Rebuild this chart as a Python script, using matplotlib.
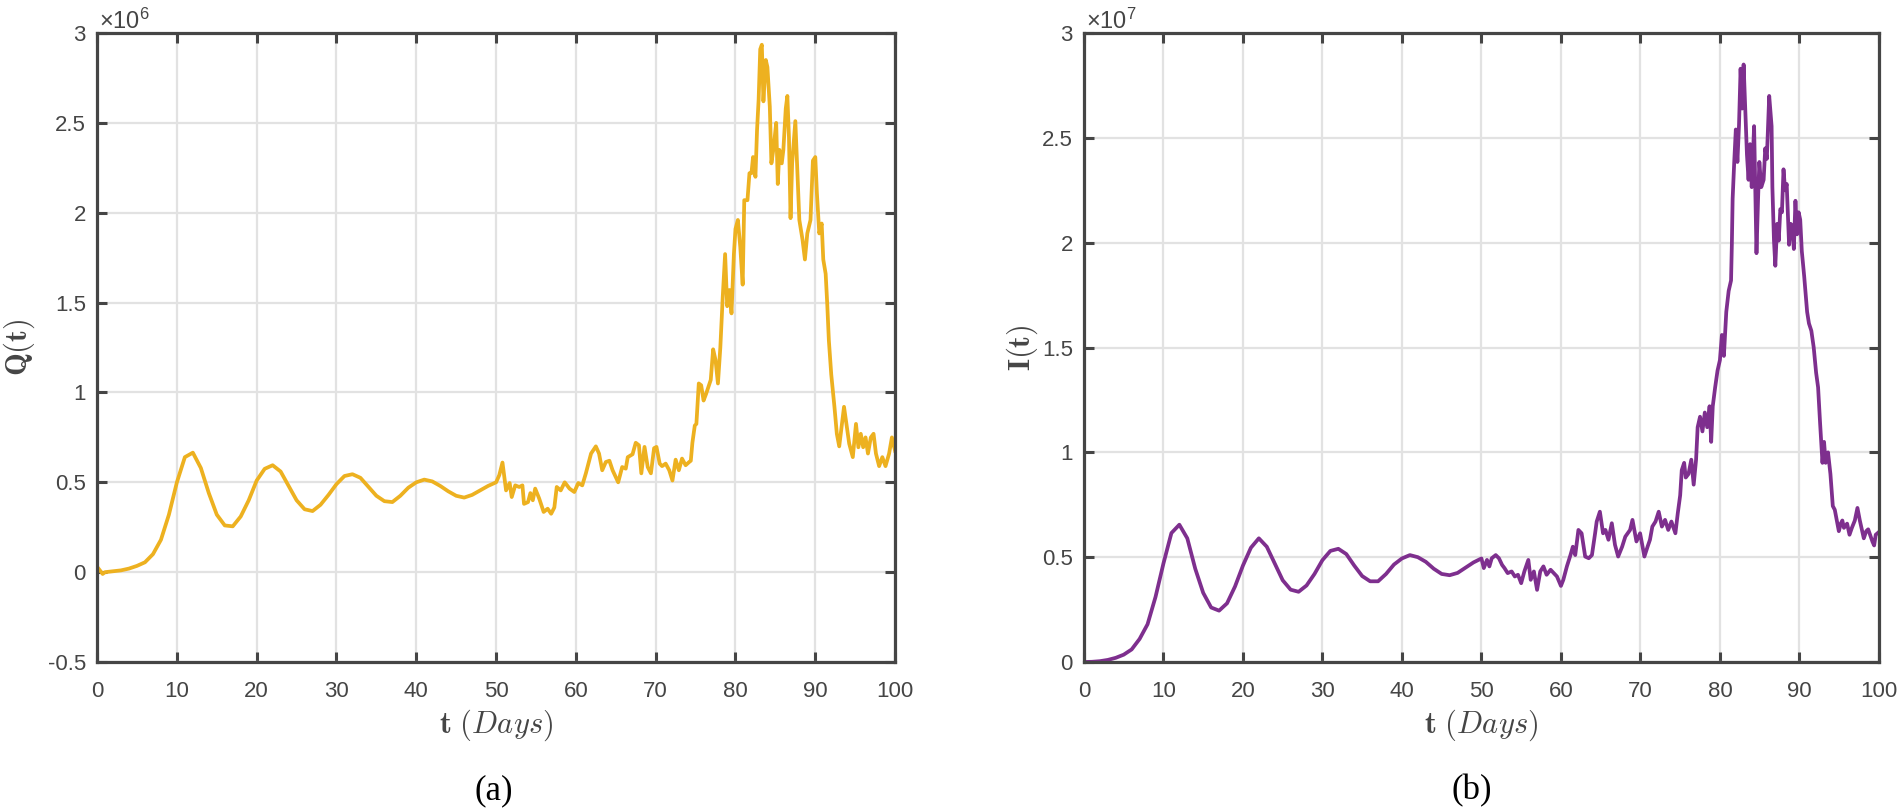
import matplotlib
matplotlib.use("Agg")
import matplotlib.pyplot as plt
import numpy as np

plt.rcParams["font.family"] = ["Liberation Sans", "DejaVu Sans"]
plt.rcParams["mathtext.fontset"] = "cm"

# ---- data (Q in units of 1e6, I in units of 1e7) ----
q_days_smooth = [0, 0.7, 1, 2, 3, 4, 5, 6, 7, 8, 9, 10, 11, 12, 13, 14, 15, 16,
                 17, 18, 19, 20, 21, 22, 23, 24, 25, 26, 27, 28, 29, 30, 31, 32,
                 33, 34, 35, 36, 37, 38, 39, 40, 41, 42, 43, 44, 45, 46, 47, 48,
                 49, 50]
q_vals_smooth = [0.03, -0.01, 0.0, 0.005, 0.01, 0.02, 0.035, 0.055, 0.10, 0.18,
                 0.32, 0.50, 0.64, 0.665, 0.58, 0.44, 0.32, 0.26, 0.255, 0.31,
                 0.40, 0.51, 0.575, 0.595, 0.56, 0.48, 0.40, 0.35, 0.34, 0.375,
                 0.43, 0.49, 0.535, 0.545, 0.525, 0.475, 0.425, 0.395, 0.39,
                 0.425, 0.47, 0.50, 0.515, 0.505, 0.48, 0.45, 0.425, 0.415,
                 0.43, 0.455, 0.48, 0.50]
q_days_noisy = [50.4, 50.8, 51.25, 51.7, 51.96, 52.4, 52.9, 53.3, 53.5, 54.0,
                54.3, 54.6, 54.9, 55.4, 55.96, 56.46, 56.9, 57.3, 57.6, 58.1,
                58.6, 59.2, 59.8, 60.3, 60.8, 61.25, 61.9, 62.5, 62.9, 63.3,
                63.75, 64.2, 64.6, 65.3, 65.8, 66.25, 66.5, 67.1, 67.5, 67.9,
                68.2, 68.6, 69.0, 69.4, 69.8, 70.1, 70.5, 70.8, 71.25, 71.7,
                72.1, 72.5, 72.9, 73.3, 73.75, 74.2, 74.4, 74.6, 74.9, 75.1,
                75.4, 75.7, 76.0, 76.3, 76.6, 76.9, 77.2, 77.5, 77.8, 78.1,
                78.4, 78.7, 78.96, 79.25, 79.5, 79.8, 80.0, 80.3, 80.6, 80.9,
                81.1, 81.5, 81.75, 82.0, 82.2, 82.5, 82.7, 82.9, 83.1, 83.3,
                83.5, 83.8, 84.0, 84.3, 84.5, 84.8, 85.1, 85.3, 85.5, 85.8,
                86.0, 86.3, 86.5, 86.7, 86.9, 87.1, 87.5, 87.7, 88.0, 88.4,
                88.7, 89.0, 89.4, 89.7, 90.0, 90.2, 90.5, 90.8, 91.0, 91.3,
                91.5, 91.7, 92.0, 92.4, 92.7, 93.0, 93.3, 93.6, 93.9, 94.25,
                94.7, 95.1, 95.4, 95.7, 96.0, 96.3, 96.6, 96.96, 97.3, 97.6,
                98.0, 98.4, 98.8, 99.25, 99.6, 100.0]
q_vals_noisy = [0.54, 0.61, 0.455, 0.496, 0.418, 0.483, 0.474, 0.483, 0.38, 0.39,
                0.44, 0.40, 0.465, 0.41, 0.335, 0.353, 0.325, 0.36, 0.474, 0.455,
                0.50, 0.465, 0.446, 0.496, 0.483, 0.55, 0.66, 0.70, 0.66, 0.567,
                0.613, 0.62, 0.567, 0.50, 0.585, 0.576, 0.64, 0.656, 0.72, 0.706,
                0.55, 0.697, 0.585, 0.55, 0.69, 0.697, 0.604, 0.59, 0.604, 0.567,
                0.51, 0.626, 0.567, 0.632, 0.595, 0.613, 0.62, 0.72, 0.816, 0.825,
                1.05, 1.04, 0.955, 0.99, 1.03, 1.07, 1.24, 1.18, 1.05, 1.25,
                1.53, 1.77, 1.48, 1.57, 1.44, 1.77, 1.91, 1.96, 1.81, 1.60,
                2.07, 2.07, 2.22, 2.22, 2.31, 2.20, 2.46, 2.63, 2.91, 2.935,
                2.62, 2.85, 2.81, 2.59, 2.275, 2.37, 2.50, 2.16, 2.35, 2.275,
                2.35, 2.58, 2.65, 2.42, 1.97, 2.275, 2.51, 2.29, 1.96, 1.85,
                1.74, 1.885, 1.96, 2.29, 2.31, 2.11, 1.885, 1.94, 1.74, 1.66,
                1.49, 1.29, 1.10, 0.92, 0.77, 0.70, 0.81, 0.92, 0.825, 0.715,
                0.64, 0.825, 0.695, 0.77, 0.695, 0.75, 0.66, 0.75, 0.77, 0.66,
                0.59, 0.64, 0.59, 0.66, 0.75, 0.675]

i_days_smooth = list(range(0, 51))
i_vals_smooth = [0.0, 0.001, 0.004, 0.01, 0.02, 0.035, 0.06, 0.11, 0.18, 0.31,
                 0.47, 0.615, 0.655, 0.59, 0.445, 0.33, 0.26, 0.245, 0.28, 0.36,
                 0.46, 0.545, 0.59, 0.55, 0.47, 0.39, 0.345, 0.335, 0.365, 0.42,
                 0.486, 0.53, 0.54, 0.515, 0.46, 0.41, 0.385, 0.385, 0.42, 0.465,
                 0.494, 0.51, 0.50, 0.478, 0.445, 0.42, 0.414, 0.425, 0.45, 0.475,
                 0.494]
i_days_noisy = [50.3, 50.7, 51.0, 51.3, 51.8, 52.2, 52.6, 52.9, 53.3, 53.8,
                54.2, 54.6, 55.0, 55.4, 55.9, 56.2, 56.6, 57.0, 57.4, 57.8,
                58.2, 58.7, 59.1, 59.5, 60.0, 60.3, 60.75, 61.2, 61.5, 61.8,
                62.2, 62.6, 63.05, 63.5, 63.9, 64.3, 64.5, 64.9, 65.3, 65.6,
                65.98, 66.4, 66.8, 67.2, 67.7, 68.1, 68.7, 69.0, 69.5, 69.96,
                70.5, 70.9, 71.2, 71.5, 71.9, 72.3, 72.7, 73.1, 73.5, 73.9,
                74.4, 74.7, 75.0, 75.2, 75.5, 75.7, 76.05, 76.4, 76.7, 77.0,
                77.2, 77.5, 77.8, 78.1, 78.4, 78.7, 78.9, 79.1, 79.4, 79.7,
                80.0, 80.25, 80.5, 80.8, 81.1, 81.4, 81.5, 81.6, 81.8, 82.0,
                82.2, 82.4, 82.6, 82.8, 82.98, 83.2, 83.4, 83.6, 83.8, 84.0,
                84.3, 84.45, 84.6, 84.8, 84.96, 85.2, 85.5, 85.7, 85.9, 86.05,
                86.2, 86.5, 86.6, 86.8, 86.97, 87.2, 87.4, 87.6, 87.8, 88.0,
                88.2, 88.4, 88.7, 88.9, 89.1, 89.3, 89.5, 89.7, 89.9, 90.1,
                90.3, 90.6, 90.97, 91.2, 91.5, 91.8, 92.1, 92.35, 92.6, 92.9,
                93.1, 93.3, 93.6, 93.9, 94.2, 94.45, 94.7, 94.96, 95.2, 95.4,
                95.6, 96.0, 96.3, 96.6, 96.97, 97.3, 97.6, 97.8, 98.1, 98.4,
                98.65, 98.95, 99.2, 99.4, 99.6, 100.0]
i_vals_noisy = [0.448, 0.487, 0.456, 0.495, 0.51, 0.495, 0.463, 0.448, 0.424, 0.432,
                0.408, 0.416, 0.376, 0.432, 0.487, 0.392, 0.432, 0.344, 0.432, 0.456,
                0.416, 0.44, 0.424, 0.408, 0.363, 0.392, 0.456, 0.51, 0.55, 0.51,
                0.63, 0.614, 0.503, 0.495, 0.51, 0.614, 0.67, 0.717, 0.614, 0.63,
                0.583, 0.662, 0.559, 0.503, 0.55, 0.598, 0.63, 0.678, 0.575, 0.614,
                0.503, 0.55, 0.583, 0.646, 0.67, 0.717, 0.646, 0.678, 0.63, 0.67,
                0.614, 0.71, 0.795, 0.915, 0.95, 0.88, 0.897, 0.965, 0.846, 0.965,
                1.12, 1.17, 1.10, 1.19, 1.12, 1.22, 1.05, 1.22, 1.31, 1.39,
                1.44, 1.56, 1.46, 1.67, 1.77, 1.82, 1.99, 2.21, 2.385, 2.54,
                2.385, 2.56, 2.83, 2.64, 2.85, 2.62, 2.42, 2.30, 2.47, 2.265,
                2.556, 2.25, 1.95, 2.21, 2.385, 2.265, 2.30, 2.45, 2.40, 2.556,
                2.70, 2.556, 2.265, 2.01, 1.89, 2.09, 2.01, 2.16, 2.145, 2.35,
                2.25, 2.28, 1.99, 2.09, 2.08, 1.97, 2.20, 2.04, 2.145, 2.11,
                1.96, 1.84, 1.67, 1.615, 1.58, 1.50, 1.38, 1.31, 1.14, 0.95,
                1.05, 0.95, 1.0, 0.897, 0.744, 0.726, 0.675, 0.624, 0.66, 0.675,
                0.64, 0.66, 0.607, 0.64, 0.675, 0.735, 0.675, 0.64, 0.59, 0.624,
                0.633, 0.6, 0.573, 0.556, 0.607, 0.62]

x_ticks = [0, 10, 20, 30, 40, 50, 60, 70, 80, 90, 100]
q_ticks = [-0.5, 0, 0.5, 1, 1.5, 2, 2.5, 3]
q_tick_labels = ["-0.5", "0", "0.5", "1", "1.5", "2", "2.5", "3"]
i_ticks = [0, 0.5, 1, 1.5, 2, 2.5, 3]
i_tick_labels = ["0", "0.5", "1", "1.5", "2", "2.5", "3"]

AX_COLOR = "#454545"
GRID_COLOR = "#e2e2e2"


def style_axes(ax, yticks, ylabels, exponent):
    ax.set_xlim(0, 100)
    ax.set_xticks(x_ticks)
    ax.set_yticks(yticks)
    ax.set_yticklabels(ylabels)
    ax.set_ylim(yticks[0], yticks[-1])
    ax.grid(True, color=GRID_COLOR, linewidth=1.6)
    ax.set_axisbelow(True)
    for sp in ax.spines.values():
        sp.set_color(AX_COLOR)
        sp.set_linewidth(2.3)
    ax.tick_params(direction="in", length=7, width=2.2, color=AX_COLOR,
                   labelcolor=AX_COLOR, labelsize=16, top=True, right=True,
                   pad=8)
    ax.tick_params(axis="x", pad=14)
    ax.text(0.003, 0.999, r"$\mathregular{\times10^{%d}}$" % exponent,
            transform=ax.transAxes, ha="left", va="bottom", fontsize=17,
            color=AX_COLOR)
    ax.set_xlabel(r"$\mathbf{t}\ (Days)$", fontsize=22, color=AX_COLOR)
    ax.xaxis.set_label_coords(0.5, -0.073)


fig = plt.figure(figsize=(19, 8.1), dpi=100)

ax1 = fig.add_axes([0.0511, 0.1827, 0.42, 0.7765])
ax1.plot(q_days_smooth + q_days_noisy, q_vals_smooth + q_vals_noisy,
         color="#EDB120", linewidth=2.7)
style_axes(ax1, q_ticks, q_tick_labels, 6)
ax1.set_ylabel(r"$\mathbf{Q(t)}$", fontsize=22, color=AX_COLOR)
ax1.yaxis.set_label_coords(-0.075, 0.5)

ax2 = fig.add_axes([0.5705, 0.1827, 0.4184, 0.7765])
ax2.plot(i_days_smooth + i_days_noisy, i_vals_smooth + i_vals_noisy,
         color="#7E2F8E", linewidth=2.7)
style_axes(ax2, i_ticks, i_tick_labels, 7)
ax2.set_ylabel(r"$\mathbf{I(t)}$", fontsize=22, color=AX_COLOR)
ax2.yaxis.set_label_coords(-0.055, 0.5)

fig.text(0.26, 0.024, "(a)", ha="center", va="center", fontsize=25,
         family="Liberation Serif")
fig.text(0.7747, 0.024, "(b)", ha="center", va="center", fontsize=25,
         family="Liberation Serif")

fig.savefig("out.png", dpi=100)
